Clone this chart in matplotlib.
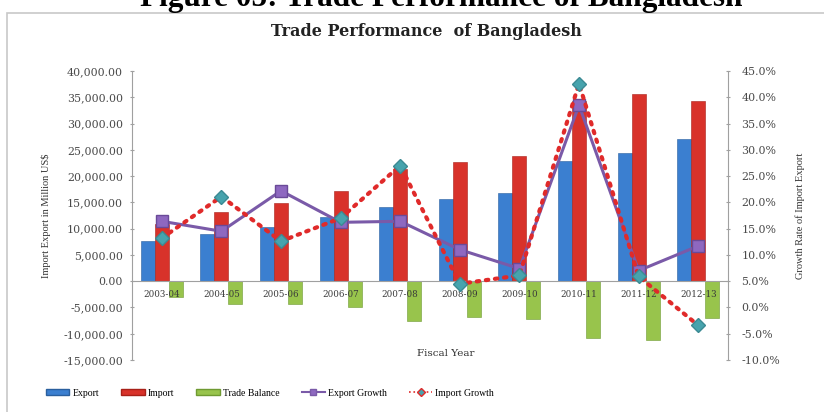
import matplotlib
matplotlib.use("Agg")
import matplotlib.pyplot as plt
from matplotlib.patches import Rectangle
from matplotlib.lines import Line2D
from matplotlib.ticker import FuncFormatter
import numpy as np

plt.rcParams['font.family'] = ['Liberation Serif', 'DejaVu Serif']
wide = ['DejaVu Serif']  # reference text looks stretched sideways, DejaVu is wider

# data (million US$ and %)
years = ["2003-04", "2004-05", "2005-06", "2006-07", "2007-08",
         "2008-09", "2009-10", "2010-11", "2011-12", "2012-13"]
export = [7600, 8900, 10400, 12200, 14100, 15700, 16700, 22900, 24300, 27100]
imports = [10900, 13100, 14800, 17200, 21300, 22600, 23900, 34200, 35600, 34300]
trade_balance = [-3000, -4400, -4300, -5000, -7600, -6900, -7200, -10800, -11100, -7000]
export_growth = [16.4, 14.5, 22.2, 16.2, 16.4, 11.0, 7.4, 38.5, 7.0, 11.7]
import_growth = [13.2, 21.1, 12.6, 17.0, 27.0, 4.5, 6.1, 42.6, 5.9, -3.4]

fig = plt.figure(figsize=(8.24, 4.12), dpi=100)

# chart frame + cut off caption at the top
fig.patches.append(Rectangle((7/824, -0.05), 1.0, 1 - 13/412 + 0.05,
                             transform=fig.transFigure, fill=False,
                             edgecolor='#c8c8c8', linewidth=1.2))
fig.text(0.535, 1 - 6/412, "Figure 05: Trade Performance of Bangladesh",
         ha='center', va='baseline', fontsize=22.5, fontweight='bold')

ax = fig.add_axes([132/824, 52/412, 596/824, 289/412])
ax.set_axisbelow(False)  # year labels sit on top of the green bars
x = np.arange(len(years))
w = 0.235
ax.bar(x - w, export, w, color='#3b7fd0', edgecolor='#2a5f9e', linewidth=0.4)
ax.bar(x, imports, w, color='#d8322a', edgecolor='#a82018', linewidth=0.4)
ax.bar(x + w, trade_balance, w, color='#98c44c', edgecolor='#6f9a32', linewidth=0.4)

ax.set_xlim(-0.5, len(years) - 0.5)
ax.set_ylim(-15000, 40000)
ax.set_yticks(np.arange(-15000, 40001, 5000))
ax.yaxis.set_major_formatter(FuncFormatter(lambda v, p: f"{v:,.2f}"))
ax.spines['top'].set_visible(False)
ax.spines['right'].set_visible(False)
ax.spines['bottom'].set_position(('data', 0))
for s in ('left', 'bottom'):
    ax.spines[s].set_color('#a0a0a0')
    ax.spines[s].set_linewidth(0.8)
ax.set_xticks(x)
ax.set_xticklabels(years, family=wide)
ax.tick_params(axis='x', length=0, pad=6, labelsize=6.3, colors='#3a3a3a')
ax.tick_params(axis='y', length=3, direction='inout', labelsize=7.9,
               colors='#a0a0a0', labelcolor='#4a4a4a', pad=5)
for t in ax.get_yticklabels():
    t.set_family(wide)
ax.set_ylabel("Import Export in Million US$", fontsize=7.5, color='#333333', labelpad=9)

ax2 = ax.twinx()
ax2.set_ylim(-10, 45)
ax2.set_yticks(np.arange(-10, 46, 5))
ax2.yaxis.set_major_formatter(FuncFormatter(lambda v, p: f"{v:.1f}%"))
for s in ('top', 'left', 'bottom'):
    ax2.spines[s].set_visible(False)
ax2.spines['right'].set_color('#a0a0a0')
ax2.spines['right'].set_linewidth(0.8)
ax2.tick_params(axis='y', length=3, direction='inout', labelsize=7.9,
                colors='#a0a0a0', labelcolor='#4a4a4a', pad=8)
for t in ax2.get_yticklabels():
    t.set_family(wide)
ax2.set_ylabel("Growth Rate of Import Export", fontsize=7.5, color='#333333',
               labelpad=11)

ax2.plot(x, export_growth, color='#7a5aa8', linewidth=2.2, marker='s', markersize=8,
         markerfacecolor='#8e68c0', markeredgecolor='#6a4a98', zorder=4)
ax2.plot(x, import_growth, color='#e02a2a', linewidth=3, linestyle=(0, (0.6, 1.6)),
         dash_capstyle='round', marker='D', markersize=7,
         markerfacecolor='#47a3ad', markeredgecolor='#3b8a93', zorder=5)

fig.text(446/824, 1 - 353/412, "Fiscal Year", ha='center', va='center',
         fontsize=7.5, color='#333333', family=wide)
fig.text(0.518, 1 - 32/412, "Trade Performance  of Bangladesh", ha='center',
         va='center', fontsize=11.5, fontweight='bold', color='#222222', family=wide)

handles = [
    Rectangle((0, 0), 1, 1, facecolor='#3b7fd0', edgecolor='#2a5f9e'),
    Rectangle((0, 0), 1, 1, facecolor='#d8322a', edgecolor='#a82018'),
    Rectangle((0, 0), 1, 1, facecolor='#98c44c', edgecolor='#6f9a32'),
    Line2D([], [], color='#7a5aa8', linewidth=1.5, marker='s', markersize=5,
           markerfacecolor='#8e68c0'),
    Line2D([], [], color='#e02a2a', linewidth=1.2, linestyle=':', marker='D',
           markersize=4.5, markerfacecolor='#47a3ad'),
]
labels = ["Export", "Import", "Trade Balance", "Export Growth", "Import Growth"]
fig.legend(handles, labels, loc='center', bbox_to_anchor=(270/824, 1 - 393/412),
           ncol=5, frameon=False, fontsize=7, handlelength=2.4, handleheight=0.45,
           columnspacing=2.3, handletextpad=0.3)

fig.savefig("out.png", dpi=100)
